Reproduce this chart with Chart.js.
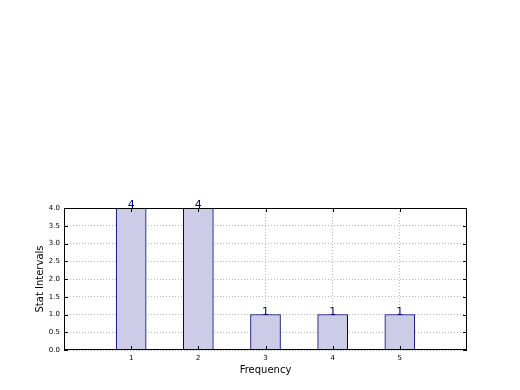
<!DOCTYPE html>
<html>
<head>
<meta charset="utf-8">
<script src="https://cdn.jsdelivr.net/npm/chart.js@4"></script>
<style>
  html, body { margin: 0; padding: 0; background: #fff; }
  #wrap { width: 520px; height: 390px; }
</style>
</head>
<body>
<div id="wrap"><canvas id="freqChart" width="520" height="390"></canvas></div>
<script>
// Data
const categories = [1, 2, 3, 4, 5];
const counts = [4, 4, 1, 1, 1];
const yTicks = [0, 0.5, 1, 1.5, 2, 2.5, 3, 3.5, 4];

const fontFamily = '"DejaVu Sans", sans-serif';

// Value labels on top of the bars
const barLabels = {
    id: 'barLabels',
    afterDatasetsDraw(chart) {
        const ctx = chart.ctx;
        const meta = chart.getDatasetMeta(0);
        ctx.save();
        ctx.fillStyle = '#000080';
        ctx.font = '11px ' + fontFamily;
        ctx.textAlign = 'center';
        ctx.textBaseline = 'bottom';
        meta.data.forEach((bar, i) => {
            ctx.fillText(String(counts[i]), bar.x, bar.y + 3);
        });
        ctx.restore();
    }
};

// Black frame and inward ticks, matplotlib style
const frame = {
    id: 'frame',
    afterDraw(chart) {
        const ctx = chart.ctx;
        const a = chart.chartArea;
        const x = chart.scales.x, y = chart.scales.y;
        ctx.save();
        ctx.strokeStyle = '#000';
        ctx.lineWidth = 1;
        ctx.strokeRect(a.left + 0.5, a.top + 0.5, a.right - a.left - 1, a.bottom - a.top - 1);
        ctx.beginPath();
        categories.forEach(c => {
            const px = Math.round(x.getPixelForValue(c)) + 0.5;
            ctx.moveTo(px, a.bottom); ctx.lineTo(px, a.bottom - 4);
            ctx.moveTo(px, a.top); ctx.lineTo(px, a.top + 4);
        });
        yTicks.forEach(v => {
            const py = Math.round(y.getPixelForValue(v)) + 0.5;
            ctx.moveTo(a.left, py); ctx.lineTo(a.left + 4, py);
            ctx.moveTo(a.right, py); ctx.lineTo(a.right - 4, py);
        });
        ctx.stroke();
        ctx.restore();
    }
};

new Chart(document.getElementById('freqChart').getContext('2d'), {
    type: 'bar',
    data: {
        datasets: [{
            data: categories.map((c, i) => ({ x: c, y: counts[i] })),
            backgroundColor: 'rgb(204, 204, 230)',
            borderColor: '#00007a',
            borderWidth: 1,
            barThickness: 30
        }]
    },
    options: {
        responsive: false,
        animation: false,
        layout: { padding: { top: 208, right: 53, left: 0, bottom: 0 } },
        plugins: {
            legend: { display: false },
            tooltip: { enabled: false }
        },
        scales: {
            x: {
                type: 'linear',
                min: 0,
                max: 6,
                offset: false,
                z: 1,
                afterBuildTicks: (scale) => {
                    scale.ticks = categories.map(v => ({ value: v }));
                },
                afterFit: (scale) => { scale.height = 40; },
                grid: {
                    offset: false,
                    color: '#b8b8b8',
                    tickLength: 0,
                    drawTicks: false
                },
                border: { display: false, dash: [1, 2] },
                ticks: {
                    color: '#000',
                    font: { family: fontFamily, size: 7 },
                    padding: 4,
                    maxRotation: 0,
                    callback: (v) => String(v)
                },
                title: {
                    display: true,
                    text: 'Frequency',
                    color: '#000',
                    font: { family: fontFamily, size: 10 },
                    padding: { top: 2, bottom: 14 }
                }
            },
            y: {
                min: 0,
                max: 4,
                z: 1,
                afterFit: (scale) => { scale.width = 64; },
                grid: {
                    color: '#b8b8b8',
                    tickLength: 0,
                    drawTicks: false
                },
                border: { display: false, dash: [1, 2] },
                ticks: {
                    stepSize: 0.5,
                    color: '#000',
                    font: { family: fontFamily, size: 7 },
                    padding: 4,
                    callback: (v) => v.toFixed(1)
                },
                title: {
                    display: true,
                    text: 'Stat Intervals',
                    color: '#000',
                    font: { family: fontFamily, size: 10 },
                    padding: { top: 34, bottom: 2 }
                }
            }
        }
    },
    plugins: [barLabels, frame]
});
</script>
</body>
</html>
